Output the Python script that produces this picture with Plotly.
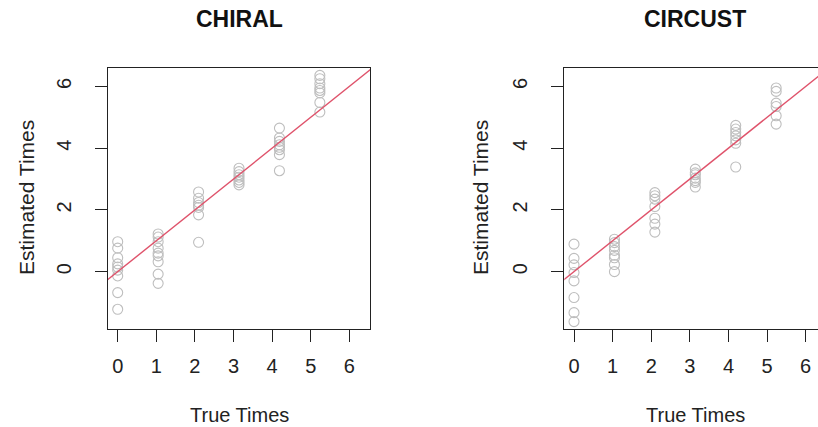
import plotly.graph_objects as go

# True sampling times: six equally spaced phases over one period
true_levels = [0.0, 1.0472, 2.0944, 3.1416, 4.1888, 5.2360]

# Estimated times per true time, CHIRAL
chiral_est = [
    [0.97, 0.76, 0.45, 0.25, 0.15, 0.05, -0.14, -0.68, -1.22],
    [1.22, 1.12, 0.97, 0.76, 0.60, 0.51, 0.32, -0.08, -0.38],
    [2.58, 2.38, 2.24, 2.15, 2.08, 1.84, 0.95],
    [3.35, 3.24, 3.14, 3.06, 2.97, 2.89, 2.81],
    [4.65, 4.33, 4.22, 4.11, 4.03, 3.95, 3.79, 3.27],
    [6.36, 6.25, 6.09, 5.95, 5.87, 5.79, 5.48, 5.17],
]

# Estimated times per true time, CIRCUST
circust_est = [
    [0.89, 0.43, 0.22, -0.03, -0.30, -0.84, -1.33, -1.62],
    [1.05, 0.94, 0.81, 0.69, 0.53, 0.45, 0.23, 0.0],
    [2.56, 2.46, 2.35, 2.11, 1.73, 1.54, 1.28],
    [3.32, 3.20, 3.14, 3.03, 2.95, 2.89, 2.74],
    [4.74, 4.62, 4.51, 4.40, 4.27, 4.16, 3.39],
    [5.95, 5.84, 5.46, 5.35, 5.05, 4.78],
]

panel_titles = ["CHIRAL", "CIRCUST"]
x_ticks = [0, 1, 2, 3, 4, 5, 6]
y_ticks = [0, 2, 4, 6]
x_label = "True Times"
y_label = "Estimated Times"

# reference line y = a + b x
abline_a, abline_b = 0.0, 1.0

W, H = 818, 427
FONT = "Liberation Sans, Arial, sans-serif"
POINT_COLOR = "#bebebe"
LINE_COLOR = "#DF536B"


def flatten(levels, groups):
    xs, ys = [], []
    for xv, grp in zip(levels, groups):
        for yv in grp:
            xs.append(xv)
            ys.append(yv)
    return xs, ys


fig = go.Figure()

for i, groups in enumerate([chiral_est, circust_est]):
    xs, ys = flatten(true_levels, groups)
    xa = "x" if i == 0 else "x2"
    ya = "y" if i == 0 else "y2"
    fig.add_trace(go.Scatter(
        x=xs, y=ys, mode="markers", xaxis=xa, yaxis=ya,
        marker=dict(symbol="circle-open", size=10, color=POINT_COLOR,
                    line=dict(width=1.1, color=POINT_COLOR)),
        showlegend=False, hoverinfo="x+y",
    ))
    lx = [-1.0, 8.0]
    fig.add_trace(go.Scatter(
        x=lx, y=[abline_a + abline_b * v for v in lx], mode="lines",
        xaxis=xa, yaxis=ya, line=dict(color=LINE_COLOR, width=1.4),
        showlegend=False, hoverinfo="skip",
    ))

# panel geometry in pixels
top_px, bot_px = 68, 329
left_boxes = [(108, 370), (564.3, 818)]
x_scale = (370 - 108) / (6.5345 + 0.2513)
y_dom = [1 - bot_px / H, 1 - top_px / H]

axis_common = dict(
    ticks="outside", ticklen=12, tickwidth=1, tickcolor="#222",
    showgrid=False, zeroline=False, showline=True, linecolor="#222",
    linewidth=1.3, tickfont=dict(family=FONT, size=20, color="#222"),
)

for i, (l, r) in enumerate(left_boxes):
    xr_end = -0.2513 + (r - l) / x_scale
    sfx = "" if i == 0 else "2"
    fig.update_layout(**{
        "xaxis" + sfx: dict(
            domain=[l / W, r / W], range=[-0.2513, xr_end],
            tickvals=x_ticks, mirror=True, anchor="y" + sfx,
            ticklabelstandoff=7, **axis_common),
        "yaxis" + sfx: dict(
            domain=y_dom, range=[-1.859, 6.598], tickvals=y_ticks,
            tickangle=-90, mirror=(i == 0), anchor="x" + sfx,
            ticklabelstandoff=16, **axis_common),
    })

annotations = []
centers = [239, 695]
ytitle_x = [26, 480]
for i, title in enumerate(panel_titles):
    annotations.append(dict(
        text="<b>%s</b>" % title, x=centers[i] / W, y=1 - 19 / H,
        xref="paper", yref="paper", xanchor="center", yanchor="middle",
        showarrow=False, font=dict(family=FONT, size=23, color="#111")))
    annotations.append(dict(
        text=x_label, x=centers[i] / W, y=1 - 415 / H,
        xref="paper", yref="paper", xanchor="center", yanchor="middle",
        showarrow=False, font=dict(family=FONT, size=20, color="#222")))
    annotations.append(dict(
        text=y_label, x=ytitle_x[i] / W, y=1 - 198 / H, textangle=-90,
        xref="paper", yref="paper", xanchor="center", yanchor="middle",
        showarrow=False, font=dict(family=FONT, size=21, color="#222")))

fig.update_layout(
    width=W, height=H, margin=dict(l=0, r=0, t=0, b=0),
    paper_bgcolor="white", plot_bgcolor="white",
    annotations=annotations,
)

fig.write_html("out.html")
